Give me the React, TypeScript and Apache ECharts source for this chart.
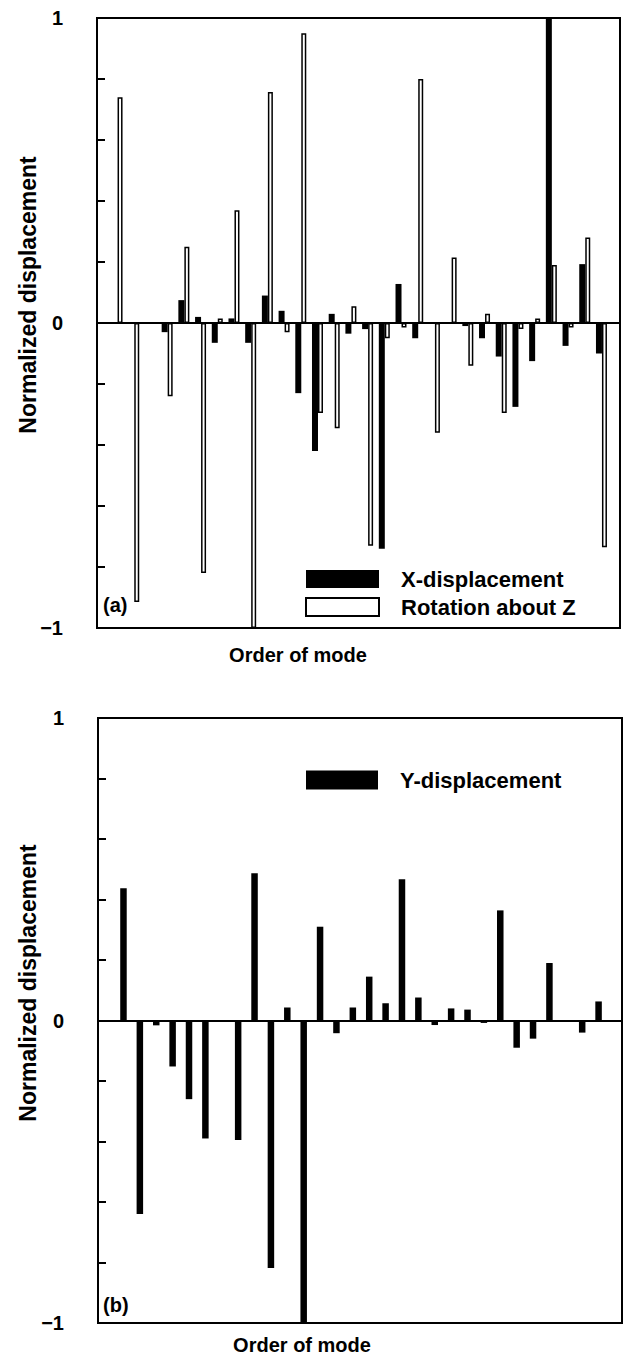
import React, { useEffect, useRef } from "react";
import * as echarts from "echarts";

// Order of mode (1..30)
const modes = [1, 2, 3, 4, 5, 6, 7, 8, 9, 10, 11, 12, 13, 14, 15, 16, 17, 18, 19, 20, 21, 22, 23, 24, 25, 26, 27, 28, 29, 30];

// Panel (a)
const xDisplacement = [0, 0, 0, -0.03, 0.075, 0.02, -0.065, 0.015, -0.065, 0.09, 0.04, -0.23, -0.42, 0.03, -0.035, -0.02, -0.74, 0.128, -0.05, 0, 0, -0.01, -0.05, -0.11, -0.275, -0.125, 1.0, -0.075, 0.193, -0.1];
const rotationZ = [0.74, -0.915, 0, -0.24, 0.25, -0.82, 0.015, 0.37, -1.0, 0.757, -0.03, 0.95, -0.295, -0.345, 0.055, -0.73, -0.05, -0.015, 0.8, -0.36, 0.215, -0.14, 0.03, -0.295, -0.02, 0.015, 0.19, -0.015, 0.28, -0.735];

// Panel (b)
const yDisplacement = [0.437, -0.64, -0.016, -0.152, -0.26, -0.39, 0, -0.395, 0.487, -0.818, 0.043, -1.0, 0.31, -0.042, 0.043, 0.145, 0.057, 0.467, 0.076, -0.015, 0.04, 0.036, -0.008, 0.364, -0.09, -0.06, 0.19, 0, -0.04, 0.063];

const yTickLabels: Record<string, string> = { "1": "1", "0": "0", "-1": "\u22121" };

const FONT = "'Liberation Sans', Arial, Helvetica, sans-serif";

export default function App() {
  const ref = useRef<HTMLDivElement>(null);
  useEffect(() => {
    if (!ref.current) return;
    const chart = echarts.init(ref.current, null, { renderer: "svg" });
    const pair = (vals: number[]) => modes.map((m, i) => [m, vals[i]]);
    const yAxisBase = (gridIndex: number) => ({
      type: "value",
      gridIndex,
      min: -1,
      max: 1,
      interval: 0.2,
      axisLine: { show: true, onZero: false, lineStyle: { color: "#000", width: 2 } },
      axisTick: { show: true, inside: true, length: 8, lineStyle: { color: "#000", width: 2 } },
      splitLine: { show: false },
      axisLabel: {
        show: true,
        margin: 34,
        color: "#000",
        fontFamily: FONT,
        fontWeight: "bold",
        fontSize: 20,
        showMinLabel: true,
        showMaxLabel: true,
        formatter: (v: number) => {
          const r = Math.round(v * 1000) / 1000;
          return yTickLabels[String(r)] ?? "";
        },
      },
    });
    const xAxisBase = (gridIndex: number, min: number, max: number) => ({
      type: "value",
      gridIndex,
      min,
      max,
      axisLine: { show: true, onZero: true, lineStyle: { color: "#000", width: 2 } },
      axisTick: { show: false },
      axisLabel: { show: false },
      splitLine: { show: false },
    });
    const legendText = { color: "#000", fontFamily: FONT, fontWeight: "bold", fontSize: 22, padding: [0, 0, 0, 17] };
    const option = {
      animation: false,
      backgroundColor: "#fff",
      grid: [
        { left: 97, top: 18, width: 523, height: 610, show: true, borderColor: "#000", borderWidth: 2, backgroundColor: "transparent" },
        { left: 98, top: 718, width: 524, height: 605, show: true, borderColor: "#000", borderWidth: 2, backgroundColor: "transparent" },
      ],
      xAxis: [xAxisBase(0, -0.2, 31.11), xAxisBase(1, -0.555, 31.43)],
      yAxis: [yAxisBase(0), yAxisBase(1)],
      legend: [
        {
          data: ["X-displacement", "Rotation about Z"],
          orient: "vertical",
          left: 305,
          top: 568,
          icon: "rect",
          itemWidth: 73,
          itemHeight: 18,
          itemGap: 6,
          padding: 0,
          selectedMode: false,
          textStyle: legendText,
        },
        {
          data: ["Y-displacement"],
          orient: "vertical",
          left: 306,
          top: 769,
          icon: "rect",
          itemWidth: 72,
          itemHeight: 19,
          padding: 0,
          selectedMode: false,
          textStyle: legendText,
        },
      ],
      series: [
        {
          name: "X-displacement",
          type: "bar",
          xAxisIndex: 0,
          yAxisIndex: 0,
          data: pair(xDisplacement),
          barWidth: 6,
          barGap: "0%",
          itemStyle: { color: "#000" },
        },
        {
          name: "Rotation about Z",
          type: "bar",
          xAxisIndex: 0,
          yAxisIndex: 0,
          data: pair(rotationZ),
          barWidth: 5,
          barGap: "0%",
          itemStyle: { color: "#fff", borderColor: "#000", borderWidth: 1.5 },
        },
        {
          name: "Y-displacement",
          type: "bar",
          xAxisIndex: 1,
          yAxisIndex: 1,
          data: pair(yDisplacement),
          barWidth: 6.5,
          itemStyle: { color: "#000" },
        },
      ],
      graphic: [
        { type: "text", x: 28, y: 295, rotation: Math.PI / 2, style: { text: "Normalized displacement", fontFamily: FONT, fontWeight: "bold", fontSize: 23, fill: "#000", align: "center", verticalAlign: "middle" } },
        { type: "text", x: 28, y: 983, rotation: Math.PI / 2, style: { text: "Normalized displacement", fontFamily: FONT, fontWeight: "bold", fontSize: 23, fill: "#000", align: "center", verticalAlign: "middle" } },
        { type: "text", x: 298, y: 655, style: { text: "Order of mode", fontFamily: FONT, fontWeight: "bold", fontSize: 20, fill: "#000", align: "center", verticalAlign: "middle" } },
        { type: "text", x: 302, y: 1345, style: { text: "Order of mode", fontFamily: FONT, fontWeight: "bold", fontSize: 20, fill: "#000", align: "center", verticalAlign: "middle" } },
        { type: "text", x: 103, y: 605, style: { text: "(a)", fontFamily: FONT, fontWeight: "bold", fontSize: 20, fill: "#000", align: "left", verticalAlign: "middle" } },
        { type: "text", x: 103, y: 1305, style: { text: "(b)", fontFamily: FONT, fontWeight: "bold", fontSize: 20, fill: "#000", align: "left", verticalAlign: "middle" } },
      ],
    };
    chart.setOption(option as any);
    return () => chart.dispose();
  }, []);
  return <div ref={ref} style={{ position: "absolute", left: 0, top: 0, width: 628, height: 1357 }} />;
}
